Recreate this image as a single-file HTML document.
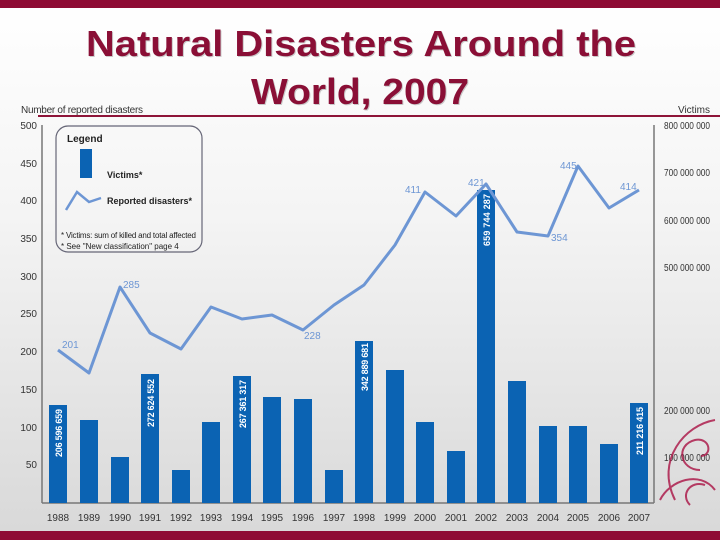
<!DOCTYPE html>
<html><head><meta charset="utf-8"><style>
html,body{margin:0;padding:0}
body{width:720px;height:540px;overflow:hidden;background:linear-gradient(#fff 0%,#f4f4f4 40%,#d8d8d8 100%);font-family:"Liberation Sans",sans-serif;position:relative}
</style></head><body>
<svg width="720" height="540" viewBox="0 0 720 540" style="position:absolute;left:0;top:0">
<rect x="0" y="0" width="720" height="8" fill="#8e0b34"/>
<rect x="0" y="531" width="720" height="9" fill="#8e0b34"/>
<g font-family="Liberation Sans, sans-serif" font-weight="bold" font-size="36" fill="#8a0f36">
<text x="87" y="57" fill="#aaa" opacity="0.6" textLength="550" lengthAdjust="spacingAndGlyphs">Natural Disasters Around the</text>
<text x="86" y="56" textLength="550" lengthAdjust="spacingAndGlyphs">Natural Disasters Around the</text>
<text x="252" y="105" fill="#aaa" opacity="0.6" textLength="218" lengthAdjust="spacingAndGlyphs">World, 2007</text>
<text x="251" y="104" textLength="218" lengthAdjust="spacingAndGlyphs">World, 2007</text>
</g>
<line x1="38" y1="116" x2="720" y2="116" stroke="#8e1438" stroke-width="2"/>
<g font-size="10" fill="#333" font-family="Liberation Sans, sans-serif">
<text x="21" y="113" textLength="122">Number of reported disasters</text>
<text x="710" y="113" text-anchor="end">Victims</text>
</g>
<line x1="42" y1="125" x2="42" y2="503" stroke="#777" stroke-width="1.5"/>
<line x1="654" y1="125" x2="654" y2="503" stroke="#777" stroke-width="1.5"/>
<line x1="42" y1="503" x2="654" y2="503" stroke="#777" stroke-width="1.5"/>
<g font-size="10" fill="#333" text-anchor="end">
<text x="37" y="129">500</text><text x="37" y="167">450</text><text x="37" y="204">400</text><text x="37" y="242">350</text><text x="37" y="280">300</text><text x="37" y="317">250</text><text x="37" y="355">200</text><text x="37" y="393">150</text><text x="37" y="431">100</text><text x="37" y="468">50</text>
</g>
<g font-size="10" fill="#333">
<text x="664" y="129" textLength="46" lengthAdjust="spacingAndGlyphs">800 000 000</text><text x="664" y="176" textLength="46" lengthAdjust="spacingAndGlyphs">700 000 000</text><text x="664" y="224" textLength="46" lengthAdjust="spacingAndGlyphs">600 000 000</text><text x="664" y="271" textLength="46" lengthAdjust="spacingAndGlyphs">500 000 000</text><text x="664" y="414" textLength="46" lengthAdjust="spacingAndGlyphs">200 000 000</text><text x="664" y="461" textLength="46" lengthAdjust="spacingAndGlyphs">100 000 000</text>
</g>
<g fill="#0b63b3">
<rect x="49" y="405" width="18" height="98"/><rect x="80" y="420" width="18" height="83"/><rect x="111" y="457" width="18" height="46"/><rect x="141" y="374" width="18" height="129"/><rect x="172" y="470" width="18" height="33"/><rect x="202" y="422" width="18" height="81"/><rect x="233" y="376" width="18" height="127"/><rect x="263" y="397" width="18" height="106"/><rect x="294" y="399" width="18" height="104"/><rect x="325" y="470" width="18" height="33"/><rect x="355" y="341" width="18" height="162"/><rect x="386" y="370" width="18" height="133"/><rect x="416" y="422" width="18" height="81"/><rect x="447" y="451" width="18" height="52"/><rect x="477" y="190" width="18" height="313"/><rect x="508" y="381" width="18" height="122"/><rect x="539" y="426" width="18" height="77"/><rect x="569" y="426" width="18" height="77"/><rect x="600" y="444" width="18" height="59"/><rect x="630" y="403" width="18" height="100"/>
</g>
<g font-size="9" fill="#fff" font-weight="bold">
<text transform="translate(62,457) rotate(-90)" textLength="48">206 596 659</text>
<text transform="translate(154,427) rotate(-90)" textLength="48">272 624 552</text>
<text transform="translate(246,428) rotate(-90)" textLength="48">267 361 317</text>
<text transform="translate(368,391) rotate(-90)" textLength="48">342 889 681</text>
<text transform="translate(490,246) rotate(-90)" textLength="52">659 744 287</text>
<text transform="translate(643,455) rotate(-90)" textLength="48">211 216 415</text>
</g>
<polyline fill="none" stroke="#6d96d4" stroke-width="3" stroke-linejoin="round" points="58,350 89,373 120,287 150,333 181,349 211,307 242,319 272,315 303,330 334,305 364,285 395,245 425,192 456,216 486,184 517,232 548,236 578,166 609,208 639,190"/>
<g font-size="10" fill="#6d96d4">
<text x="62" y="348">201</text><text x="123" y="288">285</text><text x="304" y="339">228</text><text x="405" y="193">411</text><text x="468" y="186">421</text><text x="551" y="241">354</text><text x="560" y="169">445</text><text x="620" y="190">414</text>
</g>
<g font-size="10" fill="#333" text-anchor="middle">
<text x="58" y="521">1988</text><text x="89" y="521">1989</text><text x="120" y="521">1990</text><text x="150" y="521">1991</text><text x="181" y="521">1992</text><text x="211" y="521">1993</text><text x="242" y="521">1994</text><text x="272" y="521">1995</text><text x="303" y="521">1996</text><text x="334" y="521">1997</text><text x="364" y="521">1998</text><text x="395" y="521">1999</text><text x="425" y="521">2000</text><text x="456" y="521">2001</text><text x="486" y="521">2002</text><text x="517" y="521">2003</text><text x="548" y="521">2004</text><text x="578" y="521">2005</text><text x="609" y="521">2006</text><text x="639" y="521">2007</text>
</g>
<rect x="56" y="126" width="146" height="126" rx="12" fill="none" stroke="#667" stroke-width="1.2"/>
<text x="67" y="142" font-size="10" font-weight="bold" fill="#222">Legend</text>
<rect x="80" y="149" width="12" height="29" fill="#0b63b3"/>
<text x="107" y="178" font-size="9" font-weight="bold" fill="#222">Victims*</text>
<polyline points="66,210 77,192 89,202 101,198" fill="none" stroke="#6d96d4" stroke-width="2.5"/>
<text x="107" y="204" font-size="9" font-weight="bold" fill="#222">Reported disasters*</text>
<text x="61" y="238" font-size="8" fill="#222" textLength="135">* Victims: sum of killed and total affected</text>
<text x="61" y="249" font-size="8" fill="#222">* See "New classification" page 4</text>
<g fill="none" stroke="#aa1244" stroke-width="2" opacity="0.8">
<path d="M700,470 c-20,0 -25,-25 -5,-30 c15,-3 18,15 6,16"/>
<path d="M715,420 c-30,5 -60,40 -40,80"/>
<path d="M660,500 c10,-20 40,-30 55,-10"/>
<path d="M690,505 c-10,-10 0,-25 15,-20"/>
</g>
</svg>
</body></html>
